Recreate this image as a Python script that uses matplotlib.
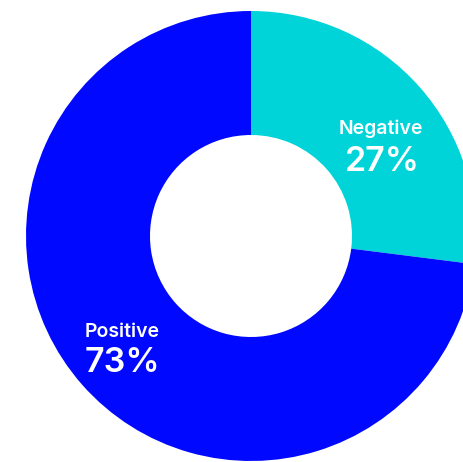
import matplotlib
matplotlib.use("Agg")
import matplotlib.pyplot as plt

labels = ["Negative", "Positive"]
values = [27, 73]
colors = ["#00D4D8", "#0008FF"]

W, H = 463, 462
fig = plt.figure(figsize=(W / 100, H / 100), dpi=100)
cx, cy, R = 251, 236, 225
ax = fig.add_axes([(cx - R) / W, (H - cy - R) / H, 2 * R / W, 2 * R / H])

ax.pie(values, colors=colors, startangle=90, counterclock=False, radius=1,
       wedgeprops=dict(width=1 - 101 / 225, linewidth=0))
ax.set_xlim(-1, 1)
ax.set_ylim(-1, 1)
ax.set_aspect("auto")
ax.axis("off")

def to_data(px, py):
    return (px - cx) / R, (cy - py) / R

font = ["Inter", "DejaVu Sans"]
x, y = to_data(381, 129)
ax.text(x, y, labels[0], color="white", fontsize=14, fontweight="semibold",
        family=font, ha="center", va="center")
x, y = to_data(382, 162)
ax.text(x, y, f"{values[0]}%", color="white", fontsize=24.5, fontweight="semibold",
        family=font, ha="center", va="center")
x, y = to_data(122, 332)
ax.text(x, y, labels[1], color="white", fontsize=14, fontweight="semibold",
        family=font, ha="center", va="center")
x, y = to_data(122, 363)
ax.text(x, y, f"{values[1]}%", color="white", fontsize=24.5, fontweight="semibold",
        family=font, ha="center", va="center")

fig.savefig("out.png", dpi=100)
